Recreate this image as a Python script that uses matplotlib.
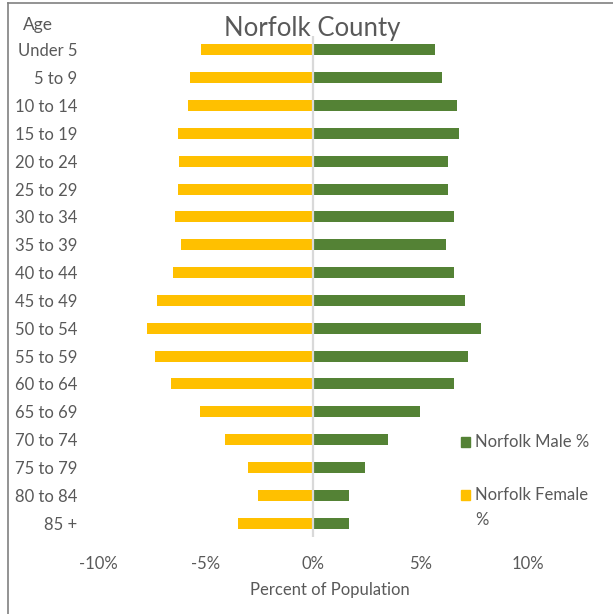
import numpy as np
import matplotlib
matplotlib.use("Agg")
import matplotlib.pyplot as plt
from matplotlib.lines import Line2D
from matplotlib.patches import Rectangle

plt.rcParams['font.family'] = ['Lato', 'DejaVu Sans']

# Datos (% de población)
ages = ['Under 5', '5 to 9', '10 to 14', '15 to 19', '20 to 24', '25 to 29',
        '30 to 34', '35 to 39', '40 to 44', '45 to 49', '50 to 54', '55 to 59',
        '60 to 64', '65 to 69', '70 to 74', '75 to 79', '80 to 84', '85 +']
male = [5.7, 6.0, 6.7, 6.8, 6.3, 6.3, 6.55, 6.2, 6.55, 7.1, 7.8, 7.2,
        6.55, 5.0, 3.5, 2.4, 1.7, 1.7]
female = [-5.2, -5.7, -5.8, -6.3, -6.25, -6.3, -6.4, -6.15, -6.5, -7.25, -7.7, -7.35,
          -6.6, -5.25, -4.1, -3.0, -2.55, -3.5]
xticks = [-10, -5, 0, 5, 10]

green = '#548235'
gold = '#FFC000'
txt = '#595959'

fig = plt.figure(figsize=(6.13, 6.14), dpi=100)
ax = fig.add_axes([0.160, 0.1254, 0.701, 0.816])

y = np.arange(len(ages))
ax.barh(y, male, height=0.4, color=green)
ax.barh(y, female, height=0.4, color=gold)
ax.axvline(0, color='#D9D9D9', lw=1.6, zorder=3)

ax.set_xlim(-10, 10)
ax.set_ylim(len(ages) - 0.5, -0.5)
ax.set_yticks(y)
ax.set_yticklabels(ages)
ax.set_xticks(xticks)
ax.set_xticklabels([f'{v}%' for v in xticks])
ax.tick_params(axis='y', length=0, pad=15, labelsize=12, labelcolor=txt)
ax.tick_params(axis='x', length=0, pad=14, labelsize=12, labelcolor=txt)
for s in ax.spines.values():
    s.set_visible(False)

fig.text(0.509, 0.953, 'Norfolk County', ha='center', va='center',
         fontsize=18.5, color=txt)
fig.text(0.062, 0.960, 'Age', ha='center', va='center', fontsize=12.5, color=txt)
fig.text(0.538, 0.039, 'Percent of Population', ha='center', va='center',
         fontsize=12, color=txt)

# Leyenda (a mano, como en Excel)
sq_w, sq_h = 9 / 613, 10 / 614
legend_items = [(green, 'Norfolk Male %', 0.280), (gold, 'Norfolk Female', 0.194)]
for color, label, yc in legend_items:
    fig.add_artist(Rectangle((0.752, yc - sq_h / 2), sq_w, sq_h,
                             transform=fig.transFigure, color=color))
    fig.text(0.775, yc, label, ha='left', va='center', fontsize=12, color=txt)
fig.text(0.775, 0.153, '%', ha='left', va='center', fontsize=12, color=txt)

# Marco de la imagen
fig.add_artist(Line2D([0.013, 0.013], [0, 0.995], color='#808080', lw=1.2))
fig.add_artist(Line2D([0.013, 1.0], [0.995, 0.995], color='#808080', lw=1.2))

fig.savefig('out.png', dpi=100)
